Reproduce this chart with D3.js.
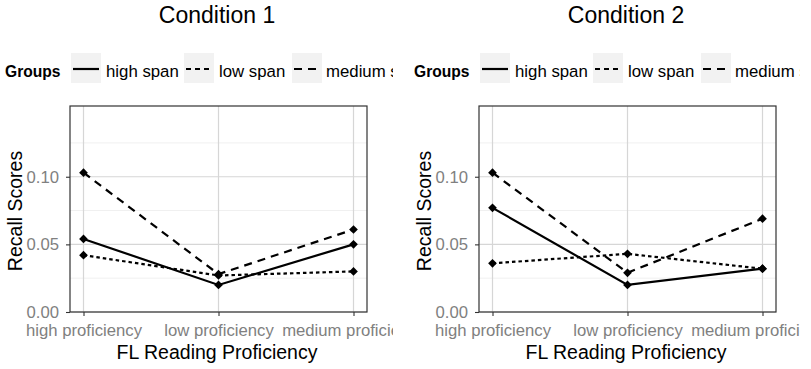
<!DOCTYPE html>
<html>
<head>
<meta charset="utf-8">
<script src="https://cdn.jsdelivr.net/npm/d3@7"></script>
<style>
  body { margin: 0; background: #fff; }
  svg { font-family: Arial, "Liberation Sans", sans-serif; }
</style>
</head>
<body>
<svg id="chart" width="811" height="369"></svg>
<script>
const proficiency = ['high proficiency', 'low proficiency', 'medium proficiency']
const groups = ['high span', 'low span', 'medium span']
const conditions = ['Condition 1', 'Condition 2']
const yTicks = [0, 0.05, 0.10]

// values per condition, per group, in proficiency order
const cond1 = {
  'high span':   [0.054, 0.020, 0.050],
  'low span':    [0.042, 0.027, 0.030],
  'medium span': [0.103, 0.028, 0.061]
}
const cond2 = {
  'high span':   [0.077, 0.020, 0.032],
  'low span':    [0.036, 0.043, 0.032],
  'medium span': [0.103, 0.029, 0.069]
}
const allData = [cond1, cond2]

const dashes = {'high span': null, 'low span': '3.5,3', 'medium span': '8,6'}
const keyDashes = {'high span': null, 'low span': '5,4', 'medium span': '8,6'}

const svg = d3.select('#chart')
const offsets = [0, 409]
const clipW = [393, 391]

const y = d3.scaleLinear().domain([0, 0.1523]).range([312, 106])

conditions.forEach((cond, ci) => {
  const ox = offsets[ci]
  const clipId = 'clip' + ci
  svg.append('clipPath').attr('id', clipId)
    .append('rect').attr('x', 0).attr('y', 0).attr('width', clipW[ci]).attr('height', 369)

  const g = svg.append('g')
    .attr('transform', `translate(${ox},0)`)
    .attr('clip-path', `url(#${clipId})`)

  const x = d3.scalePoint().domain(proficiency).range([70, 367]).padding(0.1)

  // title
  g.append('text').attr('x', 217).attr('y', 23)
    .attr('text-anchor', 'middle').attr('font-size', 23).attr('fill', '#000')
    .text(cond)

  // legend
  const lg = g.append('g')
  lg.append('text').attr('x', 5).attr('y', 76.5)
    .attr('font-size', 15.6).attr('font-weight', 'bold').attr('fill', '#000').text('Groups')
  const keyX = [71, 184, 292]
  const labX = [106, 219, 326]
  groups.forEach((gr, i) => {
    lg.append('rect').attr('x', keyX[i]).attr('y', 53).attr('width', 30).attr('height', 30)
      .attr('fill', '#f2f2f2')
    lg.append('line').attr('x1', keyX[i] + 2).attr('x2', keyX[i] + 28)
      .attr('y1', 69).attr('y2', 69)
      .attr('stroke', '#000').attr('stroke-width', 2.2)
      .attr('stroke-dasharray', keyDashes[gr])
    lg.append('text').attr('x', labX[i]).attr('y', 76.5)
      .attr('font-size', 16.8).attr('fill', '#000').text(gr)
  })

  // grid
  const minor = [0.025, 0.075, 0.125]
  g.append('g').selectAll('line').data(minor).join('line')
    .attr('x1', 70).attr('x2', 367)
    .attr('y1', d => y(d)).attr('y2', d => y(d))
    .attr('stroke', '#f0f0f0').attr('stroke-width', 1)
  g.append('g').selectAll('line').data(yTicks).join('line')
    .attr('x1', 70).attr('x2', 367)
    .attr('y1', d => y(d)).attr('y2', d => y(d))
    .attr('stroke', '#d6d6d6').attr('stroke-width', 1.2)
  g.append('g').selectAll('line').data(proficiency).join('line')
    .attr('x1', d => x(d)).attr('x2', d => x(d))
    .attr('y1', 106).attr('y2', 312)
    .attr('stroke', '#d6d6d6').attr('stroke-width', 1.2)

  // lines and points
  const line = d3.line().x((d, i) => x(proficiency[i])).y(d => y(d))
  const data = allData[ci]
  groups.forEach(gr => {
    g.append('path').datum(data[gr])
      .attr('d', line).attr('fill', 'none')
      .attr('stroke', '#000').attr('stroke-width', 2.2)
      .attr('stroke-dasharray', dashes[gr])
    g.append('g').selectAll('path').data(data[gr]).join('path')
      .attr('d', d3.symbol(d3.symbolSquare, 38))
      .attr('transform', (d, i) => `translate(${x(proficiency[i])},${y(d)}) rotate(45)`)
      .attr('fill', '#000')
  })

  // panel border
  g.append('rect').attr('x', 70).attr('y', 106).attr('width', 297).attr('height', 206)
    .attr('fill', 'none').attr('stroke', '#333').attr('stroke-width', 1.2)

  // axes
  const yAxis = g.append('g').attr('transform', 'translate(70,0)')
    .call(d3.axisLeft(y).tickValues(yTicks).tickFormat(d3.format('.2f')).tickSize(4).tickPadding(7))
  const xAxis = g.append('g').attr('transform', 'translate(0,312)')
    .call(d3.axisBottom(x).tickSize(4).tickPadding(2))
  ;[yAxis, xAxis].forEach(a => {
    a.select('.domain').remove()
    a.selectAll('.tick line').attr('stroke', '#333').attr('stroke-width', 1.1)
    a.selectAll('.tick text').attr('fill', '#808080').attr('font-size', 16.7)
      .attr('font-family', 'Arial, "Liberation Sans", sans-serif')
  })
  xAxis.selectAll('.tick text').attr('y', 24).attr('dy', 0)

  // axis titles
  g.append('text').attr('x', 217).attr('y', 359)
    .attr('text-anchor', 'middle').attr('font-size', 19.5).attr('fill', '#000')
    .text('FL Reading Proficiency')
  g.append('text').attr('transform', 'translate(22,211) rotate(-90)')
    .attr('text-anchor', 'middle').attr('font-size', 19.5).attr('fill', '#000')
    .text('Recall Scores')
})
</script>
</body>
</html>
